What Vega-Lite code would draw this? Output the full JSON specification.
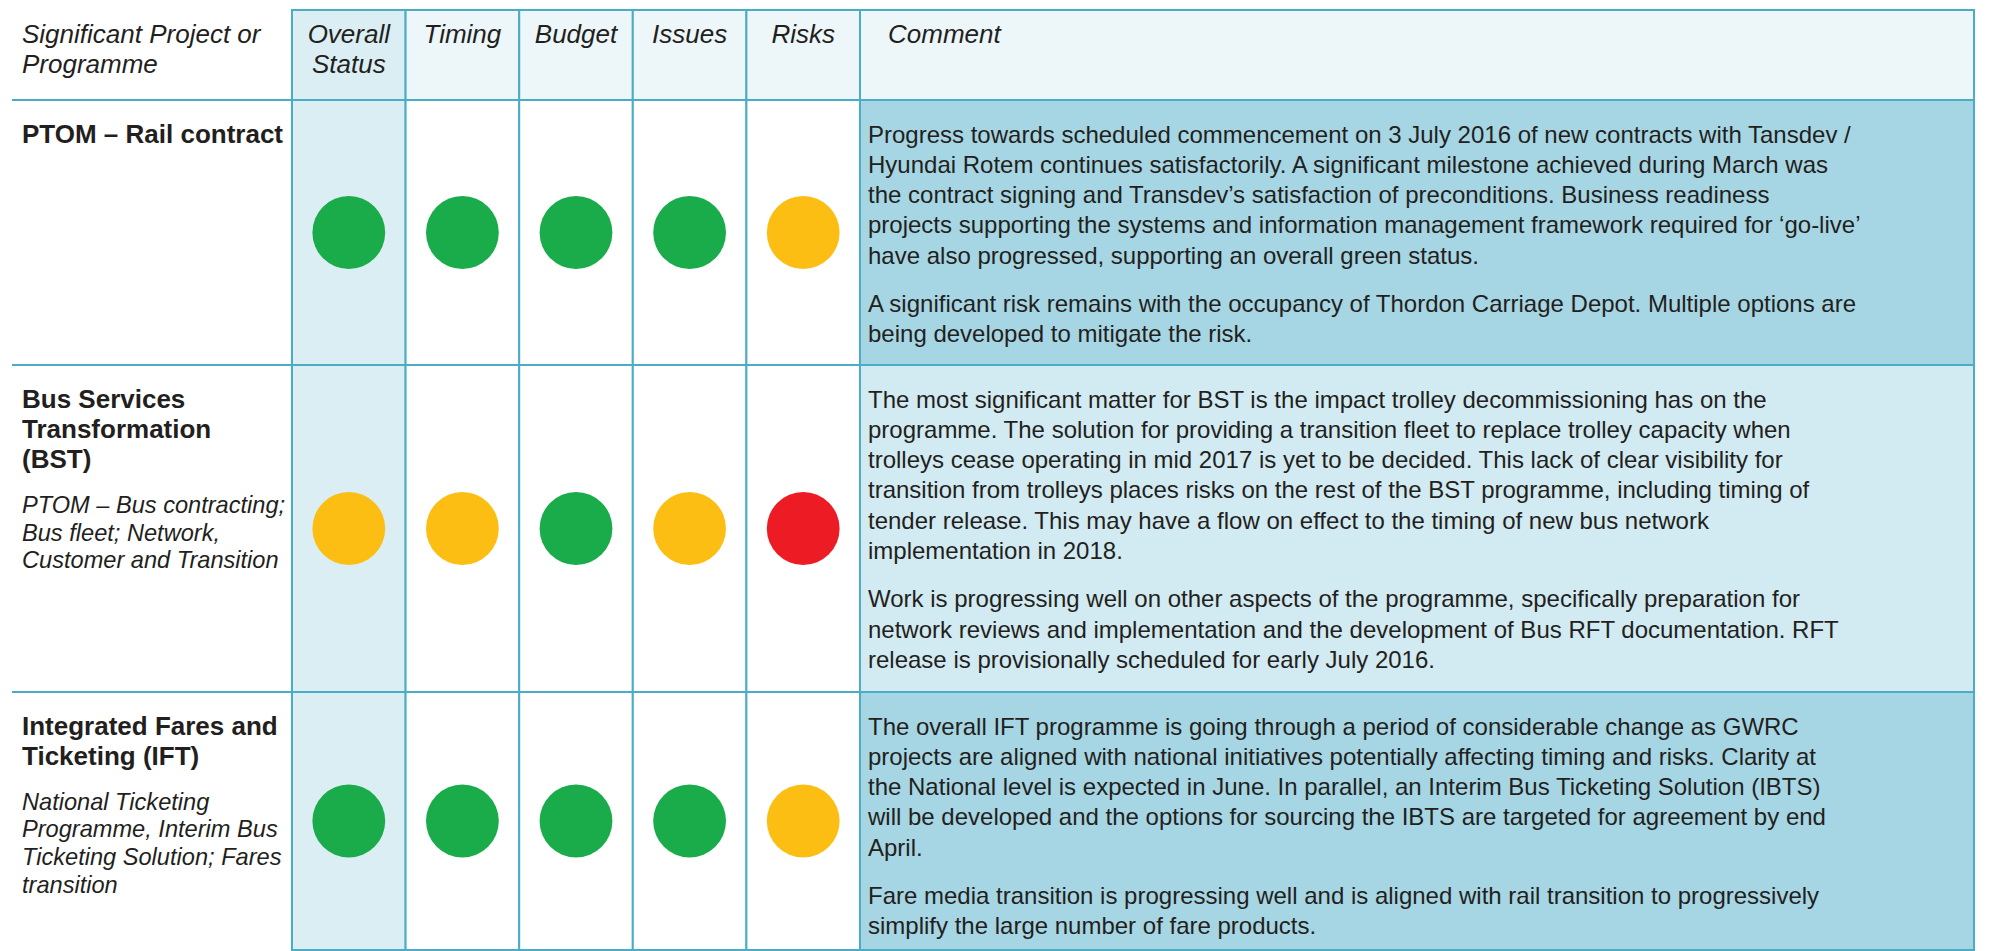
{
  "$schema": "https://vega.github.io/schema/vega-lite/v6.json",
  "padding": {"left": 11, "top": 9, "right": 0, "bottom": 0},
  "background": "#ffffff",
  "config": {
    "view": {"stroke": null},
    "text": {"font": "Liberation Sans", "color": "#231f20"}
  },
  "datasets": {
    "header": [
      {"measure": "Overall Status", "label": "Overall\nStatus"},
      {"measure": "Timing", "label": "Timing"},
      {"measure": "Budget", "label": "Budget"},
      {"measure": "Issues", "label": "Issues"},
      {"measure": "Risks", "label": "Risks"}
    ],
    "status": [
      {"p": "PTOM", "measure": "Overall Status", "status": "Green"},
      {"p": "PTOM", "measure": "Timing", "status": "Green"},
      {"p": "PTOM", "measure": "Budget", "status": "Green"},
      {"p": "PTOM", "measure": "Issues", "status": "Green"},
      {"p": "PTOM", "measure": "Risks", "status": "Amber"},
      {"p": "BST", "measure": "Overall Status", "status": "Amber"},
      {"p": "BST", "measure": "Timing", "status": "Amber"},
      {"p": "BST", "measure": "Budget", "status": "Green"},
      {"p": "BST", "measure": "Issues", "status": "Amber"},
      {"p": "BST", "measure": "Risks", "status": "Red"},
      {"p": "IFT", "measure": "Overall Status", "status": "Green"},
      {"p": "IFT", "measure": "Timing", "status": "Green"},
      {"p": "IFT", "measure": "Budget", "status": "Green"},
      {"p": "IFT", "measure": "Issues", "status": "Green"},
      {"p": "IFT", "measure": "Risks", "status": "Amber"}
    ],
    "proj": [
      {"p": "PTOM", "kind": "title", "line": 1, "text": "PTOM – Rail contract"},
      {"p": "BST", "kind": "title", "line": 1, "text": "Bus Services\nTransformation\n(BST)"},
      {"p": "BST", "kind": "sub", "line": 4, "text": "PTOM – Bus contracting;\nBus fleet; Network,\nCustomer and Transition"},
      {"p": "IFT", "kind": "title", "line": 1, "text": "Integrated Fares and\nTicketing (IFT)"},
      {"p": "IFT", "kind": "sub", "line": 3, "text": "National Ticketing\nProgramme, Interim Bus\nTicketing Solution; Fares\ntransition"}
    ],
    "comments": [
      {"p": "PTOM", "para": 1, "line": 1, "text": "Progress towards scheduled commencement on 3 July 2016 of new contracts with Tansdev /\nHyundai Rotem continues satisfactorily.  A significant milestone achieved during March was\nthe contract signing and Transdev’s satisfaction of preconditions.  Business readiness\nprojects supporting the systems and information management framework required for ‘go-live’\nhave also progressed, supporting an overall green status."},
      {"p": "PTOM", "para": 2, "line": 6, "text": "A significant risk remains with the occupancy of Thordon Carriage Depot. Multiple options are\nbeing developed to mitigate the risk."},
      {"p": "BST", "para": 1, "line": 1, "text": "The most significant matter for BST is the impact trolley decommissioning has on the\nprogramme. The solution for providing a transition fleet to replace trolley capacity when\ntrolleys cease operating in mid 2017 is yet to be decided. This lack of clear visibility for\ntransition from trolleys places risks on the rest of the BST programme, including timing of\ntender release. This may have a flow on effect to the timing of new bus network\nimplementation in 2018."},
      {"p": "BST", "para": 2, "line": 7, "text": "Work is progressing well on other aspects of the programme, specifically preparation for\nnetwork reviews and implementation and the development of Bus RFT documentation. RFT\nrelease is provisionally scheduled for early July 2016."},
      {"p": "IFT", "para": 1, "line": 1, "text": "The overall IFT programme is going through a period of considerable change as GWRC\nprojects are aligned with national initiatives potentially affecting timing and risks.  Clarity at\nthe National level is expected in June.  In parallel, an Interim Bus Ticketing Solution (IBTS)\nwill be developed and the options for sourcing the IBTS are targeted for agreement by end\nApril."},
      {"p": "IFT", "para": 2, "line": 6, "text": "Fare media transition is progressing well and is aligned with rail transition to progressively\nsimplify the large number of fare products."}
    ]
  },
  "columns": 3,
  "spacing": 0,
  "bounds": "flush",
  "align": "each",
  "concat": [
    {
      "width": 280, "height": 90,
      "data": {"values": [{"text": "Significant Project or\nProgramme", "line": 1}]},
      "layer": [
        {"mark": {"type": "text", "align": "left", "baseline": "alphabetic", "fontSize": 26, "fontStyle": "italic", "lineBreak": "\n", "lineHeight": 29.5, "dx": 10},
         "encoding": {
           "x": {"datum": "cell", "type": "nominal", "scale": {"type": "band", "paddingInner": 0, "paddingOuter": 0}, "bandPosition": 0, "axis": null},
           "y": {"field": "line", "type": "quantitative", "scale": {"domain": [1, 2], "range": [33.3, 62.8], "nice": false, "zero": false}, "axis": null},
           "text": {"field": "text"}}},
        {"mark": {"type": "rule", "color": "#4bacc6", "strokeWidth": 2}, "encoding": {"y": {"value": "height"}}}
      ]
    },
    {
      "width": 568, "height": 90,
      "data": {"name": "header"},
      "encoding": {"x": {"field": "measure", "type": "nominal", "sort": ["Overall Status", "Timing", "Budget", "Issues", "Risks"], "scale": {"type": "band", "paddingInner": 0, "paddingOuter": 0}, "axis": null}},
      "layer": [
        {"mark": {"type": "rect", "stroke": "#4bacc6", "strokeWidth": 2},
         "encoding": {"fill": {"condition": {"test": "datum.measure === 'Overall Status'", "value": "#daeef3"}, "value": "#edf6f9"}}},
        {"mark": {"type": "text", "align": "center", "baseline": "alphabetic", "fontSize": 26, "fontStyle": "italic", "lineBreak": "\n", "lineHeight": 29.5},
         "encoding": {
           "y": {"datum": 1, "type": "quantitative", "scale": {"domain": [1, 2], "range": [33.3, 62.8], "nice": false, "zero": false}, "axis": null},
           "text": {"field": "label"}}}
      ]
    },
    {
      "width": 1114, "height": 90,
      "view": {"fill": "#edf6f9", "stroke": "#4bacc6", "strokeWidth": 2},
      "data": {"values": [{"text": "Comment", "line": 1}]},
      "mark": {"type": "text", "align": "left", "baseline": "alphabetic", "fontSize": 26, "fontStyle": "italic", "dx": 28},
      "encoding": {
        "x": {"datum": "cell", "type": "nominal", "scale": {"type": "band", "paddingInner": 0, "paddingOuter": 0}, "bandPosition": 0, "axis": null},
        "y": {"field": "line", "type": "quantitative", "scale": {"domain": [1, 2], "range": [33.3, 62.8], "nice": false, "zero": false}, "axis": null},
        "text": {"field": "text"}}
    },
    {
      "width": 280, "height": 265,
      "data": {"name": "proj"},
      "transform": [{"filter": "datum.p === 'PTOM'"}],
      "layer": [
        {"transform": [{"filter": "datum.kind === 'title'"}],
         "mark": {"type": "text", "align": "left", "baseline": "alphabetic", "fontSize": 26, "fontWeight": "bold", "lineBreak": "\n", "lineHeight": 30, "dx": 10},
         "encoding": {
           "x": {"datum": "cell", "type": "nominal", "scale": {"type": "band", "paddingInner": 0, "paddingOuter": 0}, "bandPosition": 0, "axis": null},
           "y": {"field": "line", "type": "quantitative", "scale": {"domain": [1, 2], "range": [42.5, 72.8], "nice": false, "zero": false}, "axis": null},
           "text": {"field": "text"}}},
        {"data": {"values": [{}]}, "mark": {"type": "rule", "color": "#4bacc6", "strokeWidth": 2}, "encoding": {"y": {"value": "height"}}}
      ]
    },
    {
      "width": 568, "height": 265,
      "data": {"name": "status"},
      "transform": [{"filter": "datum.p === 'PTOM'"}],
      "encoding": {"x": {"field": "measure", "type": "nominal", "sort": ["Overall Status", "Timing", "Budget", "Issues", "Risks"], "scale": {"type": "band", "paddingInner": 0, "paddingOuter": 0}, "axis": null}},
      "layer": [
        {"mark": {"type": "rect", "stroke": "#4bacc6", "strokeWidth": 2},
         "encoding": {"fill": {"condition": {"test": "datum.measure === 'Overall Status'", "value": "#daeef3"}, "value": "#ffffff"}}},
        {"mark": {"type": "circle", "size": 5300, "opacity": 1},
         "encoding": {"color": {"field": "status", "type": "nominal", "scale": {"domain": ["Green", "Amber", "Red"], "range": ["#1aab4b", "#fdbe13", "#ed1c24"]}, "legend": null}}}
      ]
    },
    {
      "width": 1114, "height": 265,
      "view": {"fill": "#a6d5e3", "stroke": "#4bacc6", "strokeWidth": 2},
      "data": {"name": "comments"},
      "transform": [{"filter": "datum.p === 'PTOM'"}],
      "layer": [
        {"transform": [{"filter": "datum.para === 1"}],
         "mark": {"type": "text", "align": "left", "baseline": "alphabetic", "fontSize": 24, "lineBreak": "\n", "lineHeight": 30.3, "dx": 8},
         "encoding": {
           "x": {"datum": "cell", "type": "nominal", "scale": {"type": "band", "paddingInner": 0, "paddingOuter": 0}, "bandPosition": 0, "axis": null},
           "y": {"field": "line", "type": "quantitative", "scale": {"domain": [1, 2], "range": [42.5, 72.8], "nice": false, "zero": false}, "axis": null},
           "text": {"field": "text"}}},
        {"transform": [{"filter": "datum.para === 2"}],
         "mark": {"type": "text", "align": "left", "baseline": "alphabetic", "fontSize": 24, "lineBreak": "\n", "lineHeight": 30.3, "dx": 8, "dy": 18},
         "encoding": {
           "x": {"datum": "cell", "type": "nominal", "scale": {"type": "band", "paddingInner": 0, "paddingOuter": 0}, "bandPosition": 0, "axis": null},
           "y": {"field": "line", "type": "quantitative", "scale": {"domain": [1, 2], "range": [42.5, 72.8], "nice": false, "zero": false}, "axis": null},
           "text": {"field": "text"}}}
      ]
    },
    {
      "width": 280, "height": 327,
      "data": {"name": "proj"},
      "transform": [{"filter": "datum.p === 'BST'"}],
      "layer": [
        {"transform": [{"filter": "datum.kind === 'title'"}],
         "mark": {"type": "text", "align": "left", "baseline": "alphabetic", "fontSize": 26, "fontWeight": "bold", "lineBreak": "\n", "lineHeight": 30, "dx": 10},
         "encoding": {
           "x": {"datum": "cell", "type": "nominal", "scale": {"type": "band", "paddingInner": 0, "paddingOuter": 0}, "bandPosition": 0, "axis": null},
           "y": {"field": "line", "type": "quantitative", "scale": {"domain": [1, 2], "range": [42.5, 72.8], "nice": false, "zero": false}, "axis": null},
           "text": {"field": "text"}}},
        {"transform": [{"filter": "datum.kind === 'sub'"}],
         "mark": {"type": "text", "align": "left", "baseline": "alphabetic", "fontSize": 23.6, "fontStyle": "italic", "lineBreak": "\n", "lineHeight": 27.8, "dx": 10, "dy": 14.5},
         "encoding": {
           "x": {"datum": "cell", "type": "nominal", "scale": {"type": "band", "paddingInner": 0, "paddingOuter": 0}, "bandPosition": 0, "axis": null},
           "y": {"field": "line", "type": "quantitative", "scale": {"domain": [1, 2], "range": [42.5, 72.8], "nice": false, "zero": false}, "axis": null},
           "text": {"field": "text"}}},
        {"data": {"values": [{}]}, "mark": {"type": "rule", "color": "#4bacc6", "strokeWidth": 2}, "encoding": {"y": {"value": "height"}}}
      ]
    },
    {
      "width": 568, "height": 327,
      "data": {"name": "status"},
      "transform": [{"filter": "datum.p === 'BST'"}],
      "encoding": {"x": {"field": "measure", "type": "nominal", "sort": ["Overall Status", "Timing", "Budget", "Issues", "Risks"], "scale": {"type": "band", "paddingInner": 0, "paddingOuter": 0}, "axis": null}},
      "layer": [
        {"mark": {"type": "rect", "stroke": "#4bacc6", "strokeWidth": 2},
         "encoding": {"fill": {"condition": {"test": "datum.measure === 'Overall Status'", "value": "#daeef3"}, "value": "#ffffff"}}},
        {"mark": {"type": "circle", "size": 5300, "opacity": 1},
         "encoding": {"color": {"field": "status", "type": "nominal", "scale": {"domain": ["Green", "Amber", "Red"], "range": ["#1aab4b", "#fdbe13", "#ed1c24"]}, "legend": null}}}
      ]
    },
    {
      "width": 1114, "height": 327,
      "view": {"fill": "#d2eaf1", "stroke": "#4bacc6", "strokeWidth": 2},
      "data": {"name": "comments"},
      "transform": [{"filter": "datum.p === 'BST'"}],
      "layer": [
        {"transform": [{"filter": "datum.para === 1"}],
         "mark": {"type": "text", "align": "left", "baseline": "alphabetic", "fontSize": 24, "lineBreak": "\n", "lineHeight": 30.3, "dx": 8},
         "encoding": {
           "x": {"datum": "cell", "type": "nominal", "scale": {"type": "band", "paddingInner": 0, "paddingOuter": 0}, "bandPosition": 0, "axis": null},
           "y": {"field": "line", "type": "quantitative", "scale": {"domain": [1, 2], "range": [42.5, 72.8], "nice": false, "zero": false}, "axis": null},
           "text": {"field": "text"}}},
        {"transform": [{"filter": "datum.para === 2"}],
         "mark": {"type": "text", "align": "left", "baseline": "alphabetic", "fontSize": 24, "lineBreak": "\n", "lineHeight": 30.3, "dx": 8, "dy": 18},
         "encoding": {
           "x": {"datum": "cell", "type": "nominal", "scale": {"type": "band", "paddingInner": 0, "paddingOuter": 0}, "bandPosition": 0, "axis": null},
           "y": {"field": "line", "type": "quantitative", "scale": {"domain": [1, 2], "range": [42.5, 72.8], "nice": false, "zero": false}, "axis": null},
           "text": {"field": "text"}}}
      ]
    },
    {
      "width": 280, "height": 258,
      "data": {"name": "proj"},
      "transform": [{"filter": "datum.p === 'IFT'"}],
      "layer": [
        {"transform": [{"filter": "datum.kind === 'title'"}],
         "mark": {"type": "text", "align": "left", "baseline": "alphabetic", "fontSize": 26, "fontWeight": "bold", "lineBreak": "\n", "lineHeight": 30, "dx": 10},
         "encoding": {
           "x": {"datum": "cell", "type": "nominal", "scale": {"type": "band", "paddingInner": 0, "paddingOuter": 0}, "bandPosition": 0, "axis": null},
           "y": {"field": "line", "type": "quantitative", "scale": {"domain": [1, 2], "range": [42.5, 72.8], "nice": false, "zero": false}, "axis": null},
           "text": {"field": "text"}}},
        {"transform": [{"filter": "datum.kind === 'sub'"}],
         "mark": {"type": "text", "align": "left", "baseline": "alphabetic", "fontSize": 23.6, "fontStyle": "italic", "lineBreak": "\n", "lineHeight": 27.8, "dx": 10, "dy": 14.5},
         "encoding": {
           "x": {"datum": "cell", "type": "nominal", "scale": {"type": "band", "paddingInner": 0, "paddingOuter": 0}, "bandPosition": 0, "axis": null},
           "y": {"field": "line", "type": "quantitative", "scale": {"domain": [1, 2], "range": [42.5, 72.8], "nice": false, "zero": false}, "axis": null},
           "text": {"field": "text"}}}
      ]
    },
    {
      "width": 568, "height": 258,
      "data": {"name": "status"},
      "transform": [{"filter": "datum.p === 'IFT'"}],
      "encoding": {"x": {"field": "measure", "type": "nominal", "sort": ["Overall Status", "Timing", "Budget", "Issues", "Risks"], "scale": {"type": "band", "paddingInner": 0, "paddingOuter": 0}, "axis": null}},
      "layer": [
        {"mark": {"type": "rect", "stroke": "#4bacc6", "strokeWidth": 2},
         "encoding": {"fill": {"condition": {"test": "datum.measure === 'Overall Status'", "value": "#daeef3"}, "value": "#ffffff"}}},
        {"mark": {"type": "circle", "size": 5300, "opacity": 1},
         "encoding": {"color": {"field": "status", "type": "nominal", "scale": {"domain": ["Green", "Amber", "Red"], "range": ["#1aab4b", "#fdbe13", "#ed1c24"]}, "legend": null}}}
      ]
    },
    {
      "width": 1114, "height": 258,
      "view": {"fill": "#a6d5e3", "stroke": "#4bacc6", "strokeWidth": 2},
      "data": {"name": "comments"},
      "transform": [{"filter": "datum.p === 'IFT'"}],
      "layer": [
        {"transform": [{"filter": "datum.para === 1"}],
         "mark": {"type": "text", "align": "left", "baseline": "alphabetic", "fontSize": 24, "lineBreak": "\n", "lineHeight": 30.3, "dx": 8},
         "encoding": {
           "x": {"datum": "cell", "type": "nominal", "scale": {"type": "band", "paddingInner": 0, "paddingOuter": 0}, "bandPosition": 0, "axis": null},
           "y": {"field": "line", "type": "quantitative", "scale": {"domain": [1, 2], "range": [42.5, 72.8], "nice": false, "zero": false}, "axis": null},
           "text": {"field": "text"}}},
        {"transform": [{"filter": "datum.para === 2"}],
         "mark": {"type": "text", "align": "left", "baseline": "alphabetic", "fontSize": 24, "lineBreak": "\n", "lineHeight": 30.3, "dx": 8, "dy": 18},
         "encoding": {
           "x": {"datum": "cell", "type": "nominal", "scale": {"type": "band", "paddingInner": 0, "paddingOuter": 0}, "bandPosition": 0, "axis": null},
           "y": {"field": "line", "type": "quantitative", "scale": {"domain": [1, 2], "range": [42.5, 72.8], "nice": false, "zero": false}, "axis": null},
           "text": {"field": "text"}}}
      ]
    }
  ]
}
